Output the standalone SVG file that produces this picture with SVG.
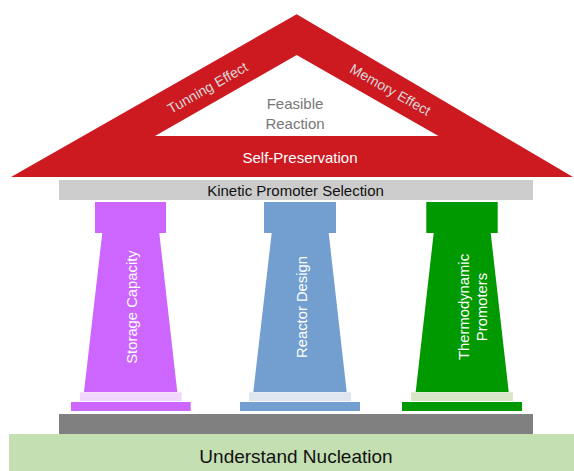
<svg xmlns="http://www.w3.org/2000/svg" width="574" height="471" viewBox="0 0 574 471">
<style>
text{font-family:"Liberation Sans",Arial,sans-serif}
.pl{fill:#cc66ff}.bl{fill:#729fcf}.gr{fill:#009900}
.rt{font-size:14.8px;fill:#ffffff;text-anchor:middle}
.sl{font-size:14px;fill:#d8d8d8;text-anchor:middle}
</style>
<rect width="574" height="471" fill="#ffffff"/>
<g id="ground">
<rect x="9" y="434" width="565" height="37" fill="#c4dfb2"/>
<text x="296" y="463" font-size="19" text-anchor="middle" fill="#111111">Understand Nucleation</text>
</g>
<g id="stylobate">
<rect x="59" y="414" width="474" height="20" fill="#808080"/>
</g>
<g id="pillar-storage">
<rect class="pl" x="95" y="202" width="71" height="31"/>
<polygon class="pl" points="102.3,233 159.3,233 177.3,392 84,392"/>
<rect x="80" y="392.3" width="101.7" height="8.7" fill="#f1d7fb"/>
<rect class="pl" x="71" y="402" width="119.7" height="9"/>
<text class="rt" transform="translate(137,307) rotate(-90)">Storage Capacity</text>
</g>
<g id="pillar-reactor">
<rect class="bl" x="264" y="202" width="72" height="31"/>
<polygon class="bl" points="271.7,233 328.7,233 346.7,392 253.3,392"/>
<rect x="249" y="392.3" width="102" height="8.7" fill="#dee6f0"/>
<rect class="bl" x="240" y="402" width="120" height="9"/>
<text class="rt" transform="translate(306.5,307) rotate(-90)">Reactor Design</text>
</g>
<g id="pillar-thermo">
<rect class="gr" x="426.3" y="202" width="71.4" height="31"/>
<polygon class="gr" points="433.7,233 490.7,233 508.7,392 415.7,392"/>
<rect x="411" y="392.3" width="102" height="8.7" fill="#d6e6c7"/>
<rect class="gr" x="402" y="402" width="120" height="9"/>
<text class="rt" transform="translate(468.5,307) rotate(-90)">Thermodynamic</text>
<text class="rt" transform="translate(486.5,307) rotate(-90)">Promoters</text>
</g>
<g id="entablature">
<rect x="59" y="180" width="474" height="20" fill="#cccccc"/>
<text x="295.5" y="195.5" font-size="15" text-anchor="middle" fill="#111111">Kinetic Promoter Selection</text>
</g>
<g id="roof">
<path d="M296.7,14.3 L573,177 L11,177 Z M296.7,55 L155,136 L438.5,136 Z" fill="#cd1a21" fill-rule="evenodd"/>
<text x="300" y="163" font-size="15" text-anchor="middle" fill="#ffffff">Self-Preservation</text>
<text x="295" y="109" font-size="15" text-anchor="middle" fill="#777777">Feasible</text>
<text x="295" y="128.5" font-size="15" text-anchor="middle" fill="#777777">Reaction</text>
<text class="sl" transform="translate(210,92) rotate(-29.6)">Tunning Effect</text>
<text class="sl" transform="translate(388,94) rotate(29.6)">Memory Effect</text>
</g>
</svg>
